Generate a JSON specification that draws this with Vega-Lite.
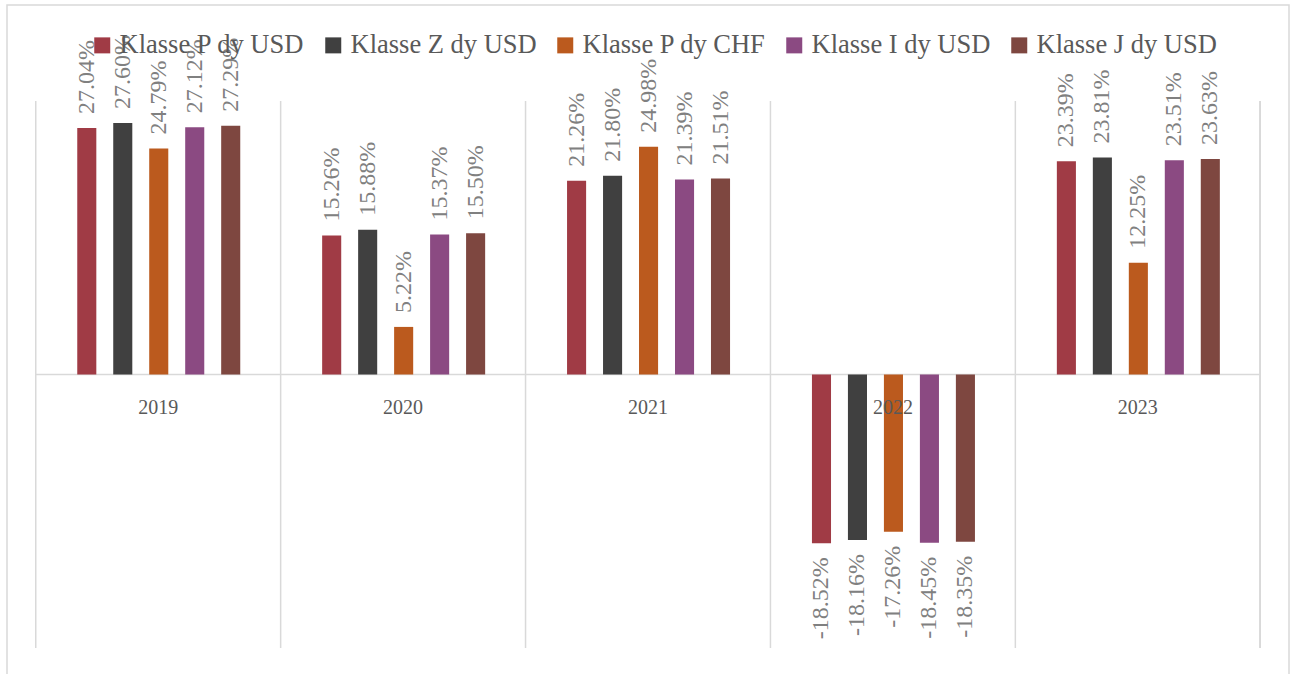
{
  "$schema": "https://vega.github.io/schema/vega-lite/v6.json",
  "width": 1282,
  "height": 675,
  "autosize": {"type": "none"},
  "padding": {"left": 7, "top": 5, "right": 4, "bottom": 0},
  "background": "white",
  "config": {
    "view": {"stroke": "#d9d9d9", "strokeWidth": 1.5},
    "font": "Liberation Serif",
    "locale": {"number": {"decimal": ".", "thousands": ",", "grouping": [3], "currency": ["$", ""], "minus": "-"}}
  },
  "datasets": {
    "bars": [
      {"year": "2019", "series": "Klasse P dy USD", "value": 0.2704},
      {"year": "2019", "series": "Klasse Z dy USD", "value": 0.2760},
      {"year": "2019", "series": "Klasse P dy CHF", "value": 0.2479},
      {"year": "2019", "series": "Klasse I dy USD", "value": 0.2712},
      {"year": "2019", "series": "Klasse J dy USD", "value": 0.2729},
      {"year": "2020", "series": "Klasse P dy USD", "value": 0.1526},
      {"year": "2020", "series": "Klasse Z dy USD", "value": 0.1588},
      {"year": "2020", "series": "Klasse P dy CHF", "value": 0.0522},
      {"year": "2020", "series": "Klasse I dy USD", "value": 0.1537},
      {"year": "2020", "series": "Klasse J dy USD", "value": 0.1550},
      {"year": "2021", "series": "Klasse P dy USD", "value": 0.2126},
      {"year": "2021", "series": "Klasse Z dy USD", "value": 0.2180},
      {"year": "2021", "series": "Klasse P dy CHF", "value": 0.2498},
      {"year": "2021", "series": "Klasse I dy USD", "value": 0.2139},
      {"year": "2021", "series": "Klasse J dy USD", "value": 0.2151},
      {"year": "2022", "series": "Klasse P dy USD", "value": -0.1852},
      {"year": "2022", "series": "Klasse Z dy USD", "value": -0.1816},
      {"year": "2022", "series": "Klasse P dy CHF", "value": -0.1726},
      {"year": "2022", "series": "Klasse I dy USD", "value": -0.1845},
      {"year": "2022", "series": "Klasse J dy USD", "value": -0.1835},
      {"year": "2023", "series": "Klasse P dy USD", "value": 0.2339},
      {"year": "2023", "series": "Klasse Z dy USD", "value": 0.2381},
      {"year": "2023", "series": "Klasse P dy CHF", "value": 0.1225},
      {"year": "2023", "series": "Klasse I dy USD", "value": 0.2351},
      {"year": "2023", "series": "Klasse J dy USD", "value": 0.2363}
    ],
    "years": [
      {"year": "2019"}, {"year": "2020"}, {"year": "2021"}, {"year": "2022"}, {"year": "2023"}
    ]
  },
  "layer": [
    {
      "data": {"name": "years"},
      "mark": {"type": "rule", "color": "#d9d9d9", "strokeWidth": 1.5},
      "encoding": {
        "x": {"field": "year", "type": "nominal", "bandPosition": 0,
              "scale": {"type": "band", "domain": ["2019", "2020", "2021", "2022", "2023"], "paddingInner": 0, "paddingOuter": 0.1174},
              "axis": null},
        "y": {"datum": -0.30, "type": "quantitative", "scale": {"domain": [-0.3351, 0.4053], "nice": false}, "axis": null},
        "y2": {"datum": 0.30}
      }
    },
    {
      "data": {"name": "years"},
      "mark": {"type": "rule", "color": "#d9d9d9", "strokeWidth": 1.5},
      "encoding": {
        "x": {"datum": "2023", "type": "nominal", "bandPosition": 1},
        "y": {"datum": -0.30, "type": "quantitative"},
        "y2": {"datum": 0.30}
      }
    },
    {
      "data": {"name": "years"},
      "mark": {"type": "rect", "fillOpacity": 0, "stroke": "#d9d9d9", "strokeWidth": 1.5},
      "encoding": {
        "x": {"field": "year", "type": "nominal"},
        "y": {"datum": 0, "type": "quantitative"},
        "y2": {"datum": 0}
      }
    },
    {
      "data": {"name": "bars"},
      "mark": {"type": "bar"},
      "encoding": {
        "x": {"field": "year", "type": "nominal"},
        "xOffset": {"field": "series", "type": "nominal",
                    "sort": ["Klasse P dy USD", "Klasse Z dy USD", "Klasse P dy CHF", "Klasse I dy USD", "Klasse J dy USD"],
                    "scale": {"paddingInner": 0.47, "paddingOuter": 0, "range": [41.5, 204.5]}},
        "y": {"field": "value", "type": "quantitative"},
        "y2": {"datum": 0},
        "color": {
          "field": "series", "type": "nominal",
          "sort": ["Klasse P dy USD", "Klasse Z dy USD", "Klasse P dy CHF", "Klasse I dy USD", "Klasse J dy USD"],
          "scale": {"domain": ["Klasse P dy USD", "Klasse Z dy USD", "Klasse P dy CHF", "Klasse I dy USD", "Klasse J dy USD"],
                    "range": ["#A03B45", "#404040", "#BB5A1E", "#8B4A82", "#7E4740"]},
          "legend": {
            "orient": "none", "legendX": 82, "legendY": 27, "direction": "horizontal", "columns": 5,
            "title": null, "symbolType": "square", "symbolSize": 256, "symbolStrokeWidth": 0, "symbolOpacity": 1,
            "labelFont": "Liberation Serif", "labelFontSize": 26.5, "labelColor": "#595959", "labelOffset": 4,
            "columnPadding": 15, "padding": 0, "labelLimit": 400
          }
        }
      }
    },
    {
      "data": {"name": "bars"},
      "transform": [{"filter": "datum.value >= 0"}],
      "mark": {"type": "text", "angle": 270, "align": "left", "baseline": "middle", "dx": 14, "fontSize": 24, "color": "#808080", "font": "Liberation Serif"},
      "encoding": {
        "x": {"field": "year", "type": "nominal"},
        "xOffset": {"field": "series", "type": "nominal",
                    "sort": ["Klasse P dy USD", "Klasse Z dy USD", "Klasse P dy CHF", "Klasse I dy USD", "Klasse J dy USD"]},
        "y": {"field": "value", "type": "quantitative"},
        "text": {"field": "value", "type": "quantitative", "format": ".2%"}
      }
    },
    {
      "data": {"name": "bars"},
      "transform": [{"filter": "datum.value < 0"}],
      "mark": {"type": "text", "angle": 270, "align": "right", "baseline": "middle", "dx": -14, "fontSize": 24, "color": "#808080", "font": "Liberation Serif"},
      "encoding": {
        "x": {"field": "year", "type": "nominal"},
        "xOffset": {"field": "series", "type": "nominal",
                    "sort": ["Klasse P dy USD", "Klasse Z dy USD", "Klasse P dy CHF", "Klasse I dy USD", "Klasse J dy USD"]},
        "y": {"field": "value", "type": "quantitative"},
        "text": {"field": "value", "type": "quantitative", "format": ".2%"}
      }
    },
    {
      "data": {"name": "years"},
      "mark": {"type": "text", "fontSize": 20, "color": "#595959", "baseline": "middle", "dy": 34, "font": "Liberation Serif"},
      "encoding": {
        "x": {"field": "year", "type": "nominal"},
        "y": {"datum": 0, "type": "quantitative"},
        "text": {"field": "year", "type": "nominal"}
      }
    }
  ]
}
